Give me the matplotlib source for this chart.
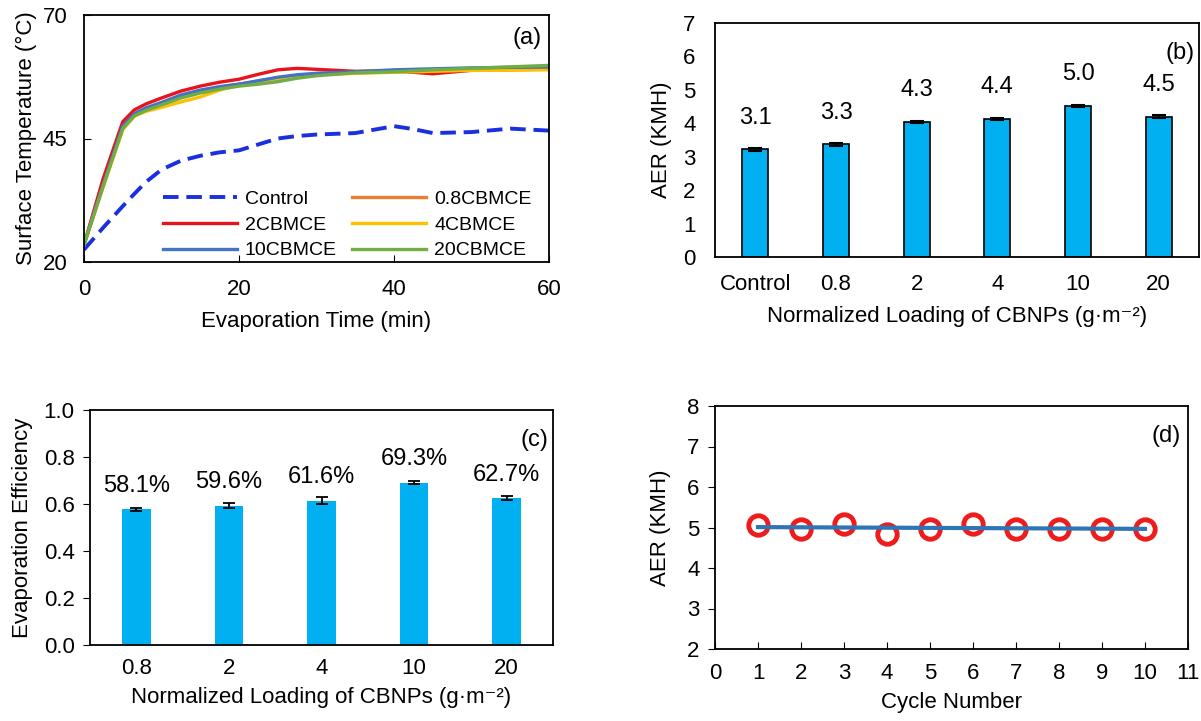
import numpy as np
from matplotlib import pyplot as plt

# (a) surface temperature vs time
times = [0, 2.5, 5, 6.5, 8, 10, 12.5, 15, 17.5, 20, 22.5, 25, 27.5, 30, 35, 40, 42.5, 45, 50, 55, 60]
temp_control = [22.5, 27.0, 31.3, 33.8, 36.2, 38.7, 40.5, 41.5, 42.2, 42.6, 43.8, 45.0, 45.5, 45.8, 46.1, 47.5, 46.9, 46.1, 46.3, 47.0, 46.6]
temp_08 = [23.5, 35.5, 47.0, 49.8, 51.0, 52.0, 53.5, 54.6, 55.4, 56.0, 56.6, 57.1, 57.6, 58.0, 58.3, 58.5, 58.5, 58.6, 59.0, 59.2, 59.4]
temp_2 = [23.5, 37.0, 48.4, 50.8, 52.0, 53.2, 54.6, 55.6, 56.4, 57.0, 58.0, 58.9, 59.2, 59.0, 58.6, 58.7, 58.4, 58.1, 58.8, 59.0, 59.2]
temp_4 = [23.5, 35.3, 46.8, 49.5, 50.5, 51.3, 52.4, 53.4, 54.8, 55.8, 56.3, 56.9, 57.4, 57.9, 58.2, 58.4, 58.5, 58.6, 58.8, 58.8, 58.9]
temp_10 = [23.5, 35.8, 47.5, 50.0, 51.2, 52.3, 53.8, 54.8, 55.5, 56.0, 56.7, 57.4, 57.9, 58.2, 58.5, 58.9, 59.0, 59.1, 59.3, 59.4, 59.5]
temp_20 = [23.5, 35.5, 47.0, 49.6, 50.7, 51.8, 53.2, 54.2, 55.0, 55.6, 56.0, 56.5, 57.2, 57.7, 58.3, 58.5, 58.7, 58.9, 59.2, 59.5, 59.8]

# (b) AER per loading
aer_names = ["Control", "0.8", "2", "4", "10", "20"]
aer_values = [3.22, 3.37, 4.04, 4.13, 4.52, 4.20]
aer_err = [0.04, 0.05, 0.04, 0.04, 0.04, 0.05]
aer_labels = ["3.1", "3.3", "4.3", "4.4", "5.0", "4.5"]

# (c) evaporation efficiency
eff_names = ["0.8", "2", "4", "10", "20"]
eff_values = [0.578, 0.593, 0.613, 0.690, 0.624]
eff_err = [0.007, 0.012, 0.015, 0.006, 0.008]
eff_labels = ["58.1%", "59.6%", "61.6%", "69.3%", "62.7%"]

# (d) cycling
cycles = [1, 2, 3, 4, 5, 6, 7, 8, 9, 10]
cycle_aer = [5.05, 4.97, 5.08, 4.85, 4.97, 5.08, 4.97, 4.97, 4.97, 4.97]

plt.rcParams['font.family'] = ['Liberation Sans', 'DejaVu Sans']
plt.rcParams['font.size'] = 16
plt.rcParams['axes.linewidth'] = 1.3
plt.rcParams['xtick.major.pad'] = 9
plt.rcParams['ytick.major.pad'] = 9

W, H = 1201, 721
fig = plt.figure(figsize=(W / 100, H / 100), dpi=100)


def px_axes(left, top, right, bottom):
    return fig.add_axes([left / W, 1 - bottom / H, (right - left) / W, (bottom - top) / H])


xlabel_load = 'Normalized Loading of CBNPs (g·m⁻²)'

# ---- (a)
ax = px_axes(84, 15, 549, 262)
ax.plot(times, temp_control, color='#1a2fe0', lw=2.8, ls=(0, (4, 2)), label='Control')
ax.plot(times, temp_08, color='#ed7d31', lw=2.4, label='0.8CBMCE')
ax.plot(times, temp_2, color='#e8141b', lw=2.4, label='2CBMCE')
ax.plot(times, temp_4, color='#ffc000', lw=2.4, label='4CBMCE')
ax.plot(times, temp_10, color='#4472c4', lw=2.4, label='10CBMCE')
ax.plot(times, temp_20, color='#70ad47', lw=2.4, label='20CBMCE')
ax.set_xlim(0, 60)
ax.set_ylim(20, 70)
ax.set_xticks([0, 20, 40, 60])
ax.set_yticks([20, 45, 70])
ax.tick_params(direction='in', length=5, top=False, right=False)
ax.tick_params(axis='x', pad=12)
ax.tick_params(axis='y', pad=12)
ax.set_xlabel('Evaporation Time (min)', labelpad=8)
ax.set_ylabel('Surface Temperature (°C)')
ax.text(0.985, 0.95, '(a)', transform=ax.transAxes, ha='right', va='top', fontsize=17)
h, l = ax.get_legend_handles_labels()
order = [0, 2, 4, 1, 3, 5]
ax.legend([h[i] for i in order], [l[i] for i in order], ncol=2, frameon=False,
          loc='lower right', bbox_to_anchor=(1.0, -0.06), fontsize=14,
          handlelength=3.8, columnspacing=0.8, labelspacing=0.42, handletextpad=0.4)

# ---- (b)
ax = px_axes(715, 23, 1199, 257)
xb = np.arange(len(aer_names))
ax.bar(xb, aer_values, 0.32, yerr=aer_err, color='#00b0f0', edgecolor='black', linewidth=1.2,
       error_kw=dict(ecolor='black', elinewidth=1.5, capsize=5, capthick=1.5))
for xi, v, s in zip(xb, aer_values, aer_labels):
    ax.text(xi, v + 0.95, s, ha='center', va='center', fontsize=17)
ax.set_xlim(-0.5, 5.5)
ax.set_ylim(0, 7)
ax.set_xticks(xb, aer_names)
ax.set_yticks(range(0, 8))
ax.tick_params(length=0)
ax.tick_params(axis='x', pad=12)
ax.tick_params(axis='y', pad=14)
ax.set_xlabel(xlabel_load, labelpad=8)
ax.set_ylabel('AER (KMH)', labelpad=8)
ax.text(0.99, 0.92, '(b)', transform=ax.transAxes, ha='right', va='top', fontsize=17)

# ---- (c)
ax = px_axes(90, 410, 553, 645)
xc = np.arange(len(eff_names))
ax.bar(xc, eff_values, 0.31, yerr=eff_err, color='#00b0f0',
       error_kw=dict(ecolor='black', elinewidth=1.3, capsize=4, capthick=1.3))
for xi, v, s in zip(xc, eff_values, eff_labels):
    ax.text(xi, v + 0.1, s, ha='center', va='center', fontsize=17)
ax.set_xlim(-0.5, 4.5)
ax.set_ylim(0, 1.0)
ax.set_xticks(xc, eff_names)
ax.set_yticks(np.arange(0, 1.01, 0.2))
ax.yaxis.set_major_formatter(plt.FormatStrFormatter('%.1f'))
ax.tick_params(axis='y', direction='out', length=5, pad=6)
ax.tick_params(axis='x', length=0, pad=9)
ax.set_xlabel(xlabel_load, labelpad=6)
ax.set_ylabel('Evaporation Efficiency', labelpad=8)
ax.text(0.99, 0.92, '(c)', transform=ax.transAxes, ha='right', va='top', fontsize=17)

# ---- (d)
ax = px_axes(715, 406, 1188, 649)
fit = np.polyfit(cycles, cycle_aer, 1)
ax.plot(cycles, cycle_aer, 'o', ms=14, mfc='none', mec='#ee1c1c', mew=3.5, zorder=2)
ax.plot([cycles[0], cycles[-1]], np.polyval(fit, [cycles[0], cycles[-1]]),
        color='#2e75b6', lw=3, zorder=3)
ax.set_xlim(0, 11)
ax.set_ylim(2, 8)
ax.set_xticks(range(0, 12))
ax.set_yticks(range(2, 9))
ax.tick_params(axis='x', direction='in', length=5, pad=10)
ax.tick_params(axis='y', direction='out', length=5, pad=6)
ax.set_xlabel('Cycle Number', labelpad=6)
ax.set_ylabel('AER (KMH)', labelpad=12)
ax.text(0.985, 0.92, '(d)', transform=ax.transAxes, ha='right', va='top', fontsize=17)

fig.savefig('out.png', dpi=100)
